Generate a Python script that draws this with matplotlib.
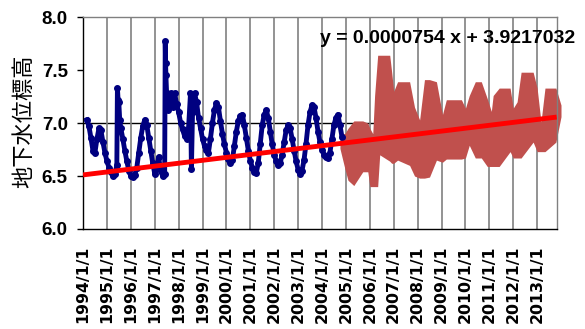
import numpy as np
import pandas as pd
import matplotlib
matplotlib.use('Agg')
import matplotlib.pyplot as plt
import matplotlib.dates as mdates

# 観測値（1994-2004, 青）
blue_dates = [
    '1994-03-01', '1994-04-01', '1994-05-01', '1994-06-01', '1994-07-01', '1994-08-01',
    '1994-09-01', '1994-10-01', '1994-11-01', '1994-12-01',
    '1995-01-01', '1995-02-01', '1995-03-01', '1995-04-01', '1995-05-01', '1995-06-01',
    '1995-06-10', '1995-06-20', '1995-07-01', '1995-07-15', '1995-08-01', '1995-09-01',
    '1995-10-01', '1995-11-01', '1995-12-01',
    '1996-01-01', '1996-02-01', '1996-03-01', '1996-04-01', '1996-05-01', '1996-06-01',
    '1996-07-01', '1996-08-01', '1996-09-01', '1996-10-01', '1996-11-01', '1996-12-01',
    '1997-01-01', '1997-02-01', '1997-03-01', '1997-04-01', '1997-05-01', '1997-06-01',
    '1997-06-10', '1997-06-15', '1997-06-20', '1997-07-01', '1997-07-15', '1997-08-01',
    '1997-09-01', '1997-10-01', '1997-11-01', '1997-12-01',
    '1998-01-01', '1998-02-01', '1998-03-01', '1998-04-01', '1998-05-01', '1998-06-01',
    '1998-07-01', '1998-07-15', '1998-08-01', '1998-09-01', '1998-10-01', '1998-11-01',
    '1998-12-01',
    '1999-01-01', '1999-02-01', '1999-03-01', '1999-04-01', '1999-05-01', '1999-06-01',
    '1999-07-01', '1999-08-01', '1999-09-01', '1999-10-01', '1999-11-01', '1999-12-01',
    '2000-01-01', '2000-02-01', '2000-03-01', '2000-04-01', '2000-05-01', '2000-06-01',
    '2000-07-01', '2000-08-01', '2000-09-01', '2000-10-01', '2000-11-01', '2000-12-01',
    '2001-01-01', '2001-02-01', '2001-03-01', '2001-04-01', '2001-05-01', '2001-06-01',
    '2001-07-01', '2001-08-01', '2001-09-01', '2001-10-01', '2001-11-01', '2001-12-01',
    '2002-01-01', '2002-02-01', '2002-03-01', '2002-04-01', '2002-05-01', '2002-06-01',
    '2002-07-01', '2002-08-01', '2002-09-01', '2002-10-01', '2002-11-01', '2002-12-01',
    '2003-01-01', '2003-02-01', '2003-03-01', '2003-04-01', '2003-05-01', '2003-06-01',
    '2003-07-01', '2003-08-01', '2003-09-01', '2003-10-01', '2003-11-01', '2003-12-01',
    '2004-01-01', '2004-02-01', '2004-03-01', '2004-04-01', '2004-05-01', '2004-06-01',
    '2004-07-01', '2004-08-01', '2004-09-01', '2004-10-01', '2004-11-01',
]
blue_values = [
    7.03, 6.97, 6.86, 6.74, 6.72, 6.85, 6.95, 6.93, 6.82, 6.72,
    6.64, 6.58, 6.54, 6.50, 6.52, 6.60, 7.33, 7.22, 7.20, 7.03, 6.95, 6.85, 6.74, 6.64, 6.55,
    6.50, 6.49, 6.51, 6.58, 6.72, 6.86, 6.97, 7.03, 6.98, 6.86, 6.74, 6.62,
    6.52, 6.58, 6.68, 6.55, 6.50, 6.52, 7.77, 7.57, 7.45, 7.28, 7.12, 7.20, 7.28, 7.15, 7.28, 7.18,
    7.10, 7.00, 6.94, 6.88, 6.85, 6.95, 7.28, 6.57, 7.10, 7.28, 7.20, 7.05, 6.95,
    6.85, 6.78, 6.75, 6.72, 6.85, 7.00, 7.12, 7.19, 7.15, 7.02, 6.90, 6.80,
    6.72, 6.66, 6.62, 6.65, 6.78, 6.92, 7.02, 7.07, 7.08, 6.98, 6.86, 6.74,
    6.64, 6.58, 6.54, 6.53, 6.62, 6.80, 6.98, 7.08, 7.12, 7.05, 6.92, 6.80,
    6.70, 6.64, 6.60, 6.62, 6.70, 6.82, 6.93, 6.98, 6.95, 6.85, 6.74, 6.64,
    6.56, 6.52, 6.55, 6.65, 6.80, 6.98, 7.10, 7.17, 7.15, 7.05, 6.92, 6.82,
    6.75, 6.70, 6.68, 6.67, 6.72, 6.85, 6.98, 7.05, 7.08, 6.98, 6.87,
]

# 観測値（2005-2013, 茶）: 上端・下端
brown_dates = [
    '2004-10-01', '2004-12-15', '2005-02-01', '2005-05-01', '2005-09-15', '2005-12-01',
    '2006-01-01', '2006-02-15', '2006-03-15', '2006-05-01', '2006-06-01', '2006-11-01',
    '2006-12-01', '2007-01-01', '2007-03-01', '2007-09-01', '2007-11-15', '2008-02-01',
    '2008-04-15', '2008-07-01', '2008-10-15', '2009-01-15', '2009-03-15', '2009-11-01',
    '2010-01-01', '2010-03-01', '2010-06-01', '2010-09-01', '2010-12-01', '2011-02-01',
    '2011-03-01', '2011-06-01', '2011-11-15', '2012-01-01', '2012-03-01', '2012-05-01',
    '2012-11-01', '2013-01-01', '2013-03-01', '2013-05-01', '2013-10-15', '2014-01-01',
]
brown_upper = [
    6.90, 6.90, 6.95, 7.02, 7.02, 7.00,
    6.95, 6.90, 7.26, 7.64, 7.64, 7.64,
    7.48, 7.30, 7.39, 7.39, 7.15, 7.03,
    7.41, 7.41, 7.39, 7.08, 7.22, 7.22,
    7.14, 7.26, 7.39, 7.39, 7.23, 7.11,
    7.26, 7.33, 7.33, 7.14, 7.20, 7.48,
    7.48, 7.33, 7.01, 7.33, 7.33, 7.17,
]
brown_lower = [
    6.76, 6.57, 6.46, 6.41, 6.54, 6.54,
    6.40, 6.40, 6.40, 6.40, 6.70, 6.64,
    6.62, 6.62, 6.65, 6.60, 6.50, 6.48,
    6.48, 6.49, 6.65, 6.63, 6.66, 6.66,
    6.67, 6.79, 6.67, 6.67, 6.59, 6.59,
    6.59, 6.59, 6.73, 6.67, 6.67, 6.67,
    6.82, 6.73, 6.73, 6.73, 6.82, 7.06,
]

year_ticks = list(range(1994, 2014))
trend_slope = 0.0000754
trend_intercept = 3.9217032

x_start = pd.Timestamp('1994-01-01')
x_end = pd.Timestamp('2013-10-27')

fig = plt.figure(figsize=(5.85, 3.29), dpi=100)
ax = fig.add_axes([0.142, 0.304, 0.8096, 0.644])

bd = pd.to_datetime(blue_dates)
brd = pd.to_datetime(brown_dates)

ax.grid(axis='x', color='#808080', lw=1.2, zorder=0)
ax.axhline(7.0, color='black', lw=1.0, zorder=1)

ax.plot(bd, blue_values, color='#000080', lw=3.5, marker='o', ms=4, zorder=3)
ax.fill_between(brd, brown_lower, brown_upper, color='#C0504D', lw=0,
                zorder=2, clip_on=False)

# 線形近似 (Excel シリアル値)
tx = mdates.date2num([x_start, x_end])
ty = trend_slope * (tx + 25569) + trend_intercept
ax.plot(mdates.num2date(tx), ty, color='#FF0000', lw=3.5, zorder=4,
        solid_capstyle='butt')

ax.set_xlim(x_start, x_end)
ax.set_ylim(6.0, 8.0)

tick_dates = [pd.Timestamp(f'{y}-01-01') for y in year_ticks]
ax.set_xticks(tick_dates)
ax.set_xticklabels([f'{y}/1/1' for y in year_ticks], rotation=90,
                   fontsize=11.3, fontweight='bold', family='DejaVu Sans')
ax.tick_params(axis='x', length=0, pad=12)

ax.set_yticks([6.0, 6.5, 7.0, 7.5, 8.0])
ax.set_yticklabels(['6.0', '6.5', '7.0', '7.5', '8.0'], fontsize=13.5,
                   fontweight='bold', family='Liberation Sans')
ax.tick_params(axis='y', length=4, width=1, pad=7, direction='out')

for s in ['top', 'right']:
    ax.spines[s].set_color('#808080')
for s in ['left', 'bottom']:
    ax.spines[s].set_color('black')
for s in ax.spines.values():
    s.set_linewidth(1.0)

fig.text(0.04, 0.632, '地下水位標高', rotation=90, ha='center', va='center',
         fontsize=16, family=['Noto Sans CJK JP', 'DejaVu Sans'])

fig.text(320 / 585, 1 - 43 / 329, 'y = 0.0000754 x + 3.9217032', ha='left',
         va='baseline', fontsize=14, fontweight='bold', family='Liberation Sans')

fig.savefig('out.png', dpi=100)
